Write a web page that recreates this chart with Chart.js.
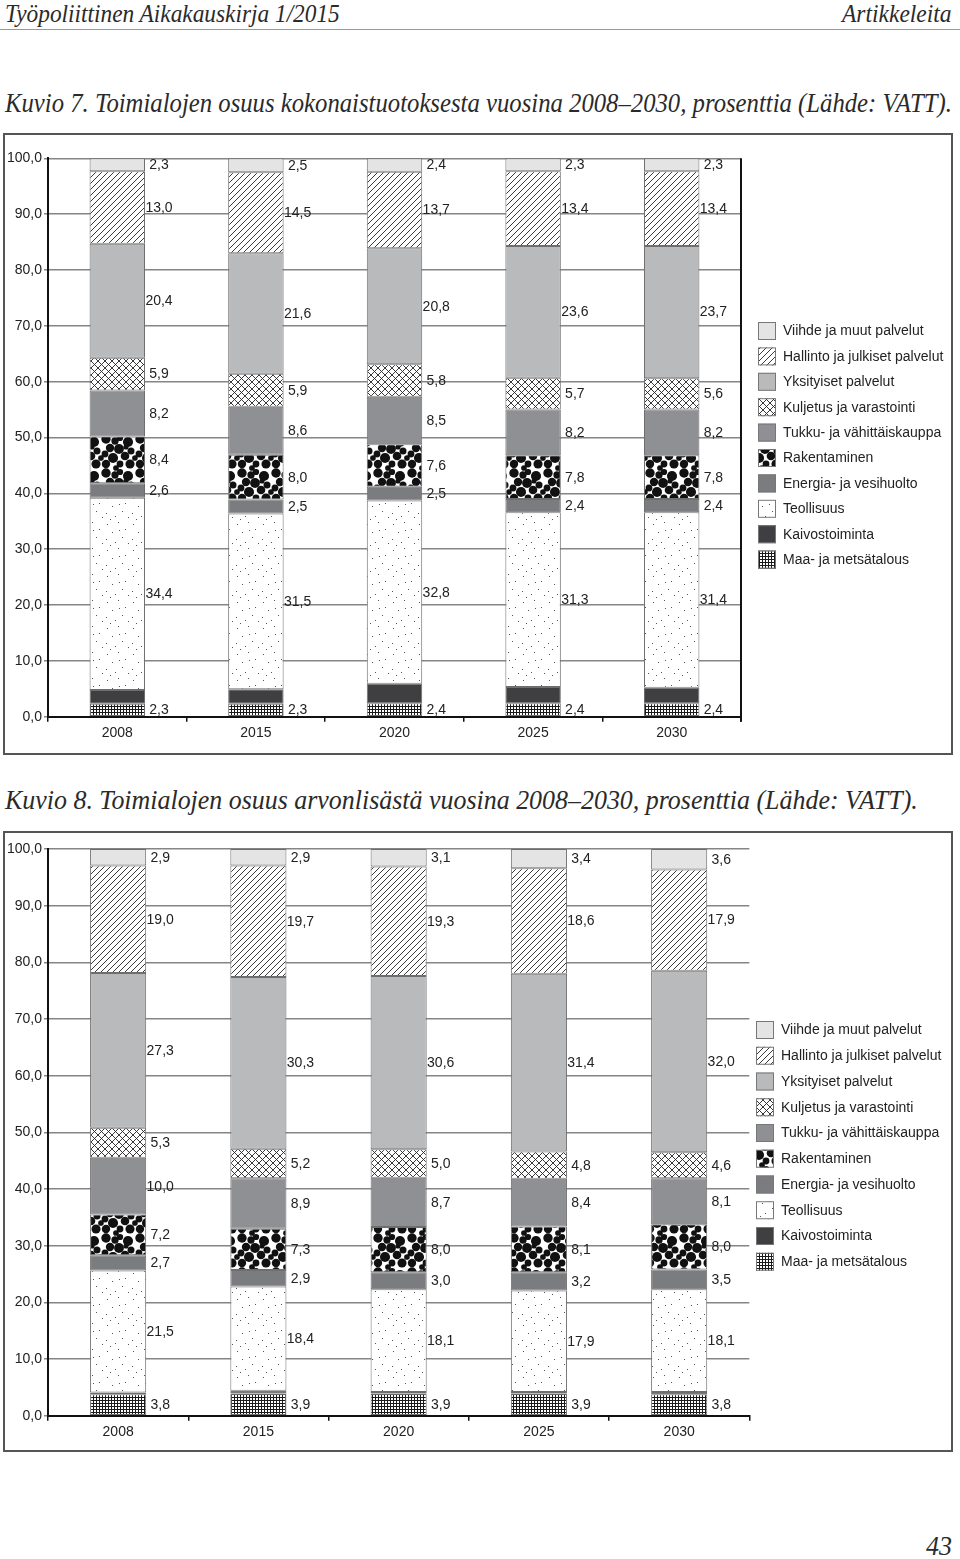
<!DOCTYPE html>
<html><head><meta charset="utf-8">
<script src="https://cdn.jsdelivr.net/npm/chart.js@4/dist/chart.umd.min.js"></script>
<style>
body{margin:0;width:960px;height:1559px;position:relative;background:#fff;overflow:hidden}
.hdr{position:absolute;font-family:"Liberation Serif","DejaVu Serif",serif;font-style:italic;color:#2a2a2a;white-space:nowrap;line-height:1}
.frame{position:absolute;border:2px solid #555;box-sizing:border-box;pointer-events:none}
canvas{position:absolute;left:0}
</style></head><body>
<div class="hdr" id="h1" style="left:5px;top:1px;font-size:25px">Työpoliittinen Aikakauskirja 1/2015</div>
<div class="hdr" id="h2" style="right:8px;top:1px;font-size:25px;transform-origin:right top">Artikkeleita</div>
<div style="position:absolute;left:0;top:29px;width:960px;height:1px;background:#999"></div>
<div class="hdr" id="t1" style="left:5px;top:89px;font-size:28px">Kuvio 7. Toimialojen osuus kokonaistuotoksesta vuosina 2008–2030, prosenttia (Lähde: VATT).</div>
<div class="hdr" id="t2" style="left:5px;top:786px;font-size:28px">Kuvio 8. Toimialojen osuus arvonlisästä vuosina 2008–2030, prosenttia (Lähde: VATT).</div>
<div class="hdr" id="pn" style="right:8px;top:1533px;font-size:27px;transform-origin:right top">43</div>

<canvas id="c1" width="960" height="630" style="top:130px;width:960px;height:630px"></canvas>
<canvas id="c2" width="960" height="630" style="top:827px;width:960px;height:630px"></canvas>
<div class="frame" style="left:3px;top:133px;width:950px;height:622px"></div>
<div class="frame" style="left:3px;top:831px;width:950px;height:621px"></div>

<script>
// ---------- DATA ----------
const years = ['2008', '2015', '2020', '2025', '2030'];
const sectorNames = ['Maa- ja metsätalous', 'Kaivostoiminta', 'Teollisuus', 'Energia- ja vesihuolto',
  'Rakentaminen', 'Tukku- ja vähittäiskauppa', 'Kuljetus ja varastointi', 'Yksityiset palvelut',
  'Hallinto ja julkiset palvelut', 'Viihde ja muut palvelut'];
const yTickLabels = ['0,0', '10,0', '20,0', '30,0', '40,0', '50,0', '60,0', '70,0', '80,0', '90,0', '100,0'];

// Kuvio 7: kokonaistuotos
const k7Maa = [2.3, 2.3, 2.4, 2.4, 2.4];
const k7Kaivos = [2.5, 2.6, 3.5, 2.9, 2.8];
const k7Teollisuus = [34.4, 31.5, 32.8, 31.3, 31.4];
const k7Energia = [2.6, 2.5, 2.5, 2.4, 2.4];
const k7Rakentaminen = [8.4, 8.0, 7.6, 7.8, 7.8];
const k7Tukku = [8.2, 8.6, 8.5, 8.2, 8.2];
const k7Kuljetus = [5.9, 5.9, 5.8, 5.7, 5.6];
const k7Yksityiset = [20.4, 21.6, 20.8, 23.6, 23.7];
const k7Hallinto = [13.0, 14.5, 13.7, 13.4, 13.4];
const k7Viihde = [2.3, 2.5, 2.4, 2.3, 2.3];

// Kuvio 8: arvonlisä
const k8Maa = [3.8, 3.9, 3.9, 3.9, 3.8];
const k8Kaivos = [0.3, 0.5, 0.3, 0.3, 0.4];
const k8Teollisuus = [21.5, 18.4, 18.1, 17.9, 18.1];
const k8Energia = [2.7, 2.9, 3.0, 3.2, 3.5];
const k8Rakentaminen = [7.2, 7.3, 8.0, 8.1, 8.0];
const k8Tukku = [10.0, 8.9, 8.7, 8.4, 8.1];
const k8Kuljetus = [5.3, 5.2, 5.0, 4.8, 4.6];
const k8Yksityiset = [27.3, 30.3, 30.6, 31.4, 32.0];
const k8Hallinto = [19.0, 19.7, 19.3, 18.6, 17.9];
const k8Viihde = [2.9, 2.9, 3.1, 3.4, 3.6];

// labels shown? (Kaivostoiminta has no value label)
const showLabel = [true, false, true, true, true, true, true, true, true, true];

// ---------- fit header texts ----------
function fitW(id, w) { const el = document.getElementById(id); el.style.transform = 'scaleX(' + (w / el.offsetWidth) + ')'; if (!el.style.transformOrigin) el.style.transformOrigin = 'left top'; }
fitW('h1', 335); fitW('h2', 110); fitW('t1', 947); fitW('t2', 913); fitW('pn', 26);

// ---------- patterns ----------
function tile(ctx, w, h, bg, draw) {
  const c = document.createElement('canvas'); c.width = w; c.height = h;
  const g = c.getContext('2d'); g.fillStyle = bg; g.fillRect(0, 0, w, h); draw(g);
  return ctx.createPattern(c, 'repeat');
}
function makeFills(ctx) {
  const diag = (g, s, both) => {
    g.strokeStyle = '#222'; g.lineWidth = 0.9; g.beginPath();
    g.moveTo(0, s); g.lineTo(s, 0); g.moveTo(-1, 1); g.lineTo(1, -1); g.moveTo(s - 1, s + 1); g.lineTo(s + 1, s - 1);
    if (both) { g.moveTo(0, 0); g.lineTo(s, s); g.moveTo(s - 1, -1); g.lineTo(s + 1, 1); g.moveTo(-1, s - 1); g.lineTo(1, s + 1); }
    g.stroke();
  };
  const hall = tile(ctx, 6, 6, '#fff', g => diag(g, 6, false));
  const kulj = tile(ctx, 7, 7, '#fff', g => diag(g, 7, true));
  const teol = tile(ctx, 26, 26, '#fff', g => {
    g.fillStyle = '#555';
    [[3, 4], [14, 2], [21, 9], [8, 12], [18, 17], [2, 19], [11, 22], [24, 23], [15, 10], [6, 25]].forEach(p => g.fillRect(p[0], p[1], 1, 1));
  });
  const rak = tile(ctx, 34, 34, '#fff', g => {
    g.fillStyle = '#111';
    const dots = [[4, 3, 3.6], [13, 5, 2.8], [18, 2, 2.4], [26, 6, 3.9], [8, 12, 3.2], [3, 18, 2.6], [17, 13, 3.8], [29, 15, 2.7],
      [23, 20, 3.3], [11, 22, 3.9], [4, 28, 3.2], [18, 28, 2.6], [28, 28, 3.5], [33, 22, 2.2], [14, 32, 2.2], [24, 11, 2.0]];
    for (const p of dots) for (const dx of [-34, 0, 34]) for (const dy of [-34, 0, 34]) {
      g.beginPath(); g.arc(p[0] + dx, p[1] + dy, p[2] * 1.3, 0, Math.PI * 2); g.fill();
    }
  });
  const maa = tile(ctx, 3, 3, '#1a1a1a', g => { g.fillStyle = '#fff'; g.fillRect(1, 1, 2, 2); });
  return [maa, '#3f3f41', teol, '#7b7c7f', rak, '#8f9093', kulj, '#b9babc', hall, '#e4e4e5'];
}

// ---------- plugins ----------
const FONT = '"Liberation Sans", Arial, sans-serif';
const valueLabels = {
  id: 'valueLabels',
  afterDatasetsDraw(chart) {
    const ctx = chart.ctx; ctx.save();
    ctx.font = '14px ' + FONT; ctx.fillStyle = '#222';
    ctx.textAlign = 'center'; ctx.textBaseline = 'middle';
    chart.data.datasets.forEach((ds, di) => {
      if (!showLabel[di]) return;
      chart.getDatasetMeta(di).data.forEach((bar, i) => {
        const v = ds.data[i];
        ctx.fillText(v.toFixed(1).replace('.', ','), bar.x + bar.width / 2 + 14, (bar.y + bar.base) / 2 + 0.5);
      });
    });
    ctx.restore();
  }
};
const sideLegend = {
  id: 'sideLegend',
  afterDraw(chart, args, opts) {
    const ctx = chart.ctx; ctx.save();
    ctx.font = '14px ' + FONT; ctx.textBaseline = 'middle'; ctx.textAlign = 'left';
    const dsets = chart.data.datasets.slice().reverse();
    dsets.forEach((ds, i) => {
      const cy = opts.y0 + i * opts.step;
      ctx.fillStyle = ds.backgroundColor; ctx.fillRect(opts.boxX, cy - 9, 18, 18);
      ctx.strokeStyle = '#777'; ctx.lineWidth = 1; ctx.strokeRect(opts.boxX + 0.5, cy - 8.5, 17, 17);
      ctx.fillStyle = '#222'; ctx.fillText(ds.label, opts.textX, cy + 0.5);
    });
    ctx.restore();
  }
};
const rightLine = {
  id: 'rightLine',
  afterDraw(chart, args, opts) {
    if (!opts.show) return;
    const a = chart.chartArea, ctx = chart.ctx; ctx.save();
    ctx.strokeStyle = '#111'; ctx.lineWidth = 2; ctx.beginPath();
    ctx.moveTo(a.right, a.top); ctx.lineTo(a.right, a.bottom + 5); ctx.stroke(); ctx.restore();
  }
};

Chart.defaults.font.family = FONT;
Chart.defaults.font.size = 14;
Chart.defaults.color = '#222';

function build(id, series, L) {
  const ctx = document.getElementById(id).getContext('2d');
  const fills = makeFills(ctx);
  const datasets = series.map((d, i) => ({
    label: sectorNames[i], data: d, backgroundColor: fills[i],
    borderColor: '#6e6e6e', borderWidth: 1, borderSkipped: false,
    barPercentage: 0.4, categoryPercentage: 1.0
  }));
  return new Chart(ctx, {
    type: 'bar',
    data: { labels: years, datasets },
    plugins: [valueLabels, sideLegend, rightLine],
    options: {
      responsive: false, animation: false,
      layout: { padding: { top: L.top, right: L.right, left: 0, bottom: 0 } },
      plugins: {
        legend: { display: false }, tooltip: { enabled: false },
        sideLegend: { boxX: L.boxX, textX: L.textX, y0: L.legY0, step: L.legStep },
        rightLine: { show: L.rightLine }
      },
      scales: {
        x: {
          stacked: true, offset: true,
          grid: { offset: true, drawOnChartArea: false, drawTicks: true, tickLength: 5, color: '#111', lineWidth: 1.5 },
          border: { color: '#111', width: 2 },
          ticks: { padding: 3, color: '#222', font: { size: 14 } },
          afterFit: s => { s.height = L.xH; }
        },
        y: {
          stacked: true, min: 0, max: 100,
          ticks: { stepSize: 10, padding: 2, color: '#222', font: { size: 14 }, callback: (v, i) => yTickLabels[i] },
          grid: { color: '#858585', lineWidth: 1.5, tickLength: 4, drawTicks: true },
          border: { color: '#111', width: 2 },
          afterFit: s => { s.width = 48; }
        }
      }
    }
  });
}

build('c1', [k7Maa, k7Kaivos, k7Teollisuus, k7Energia, k7Rakentaminen, k7Tukku, k7Kuljetus, k7Yksityiset, k7Hallinto, k7Viihde],
  { top: 28.3, right: 219, xH: 43.3, boxX: 758, textX: 783, legY0: 201, legStep: 25.4, rightLine: true });
build('c2', [k8Maa, k8Kaivos, k8Teollisuus, k8Energia, k8Rakentaminen, k8Tukku, k8Kuljetus, k8Yksityiset, k8Hallinto, k8Viihde],
  { top: 22, right: 210.7, xH: 41.3, boxX: 756, textX: 781, legY0: 203, legStep: 25.75, rightLine: false });
</script>
</body></html>
